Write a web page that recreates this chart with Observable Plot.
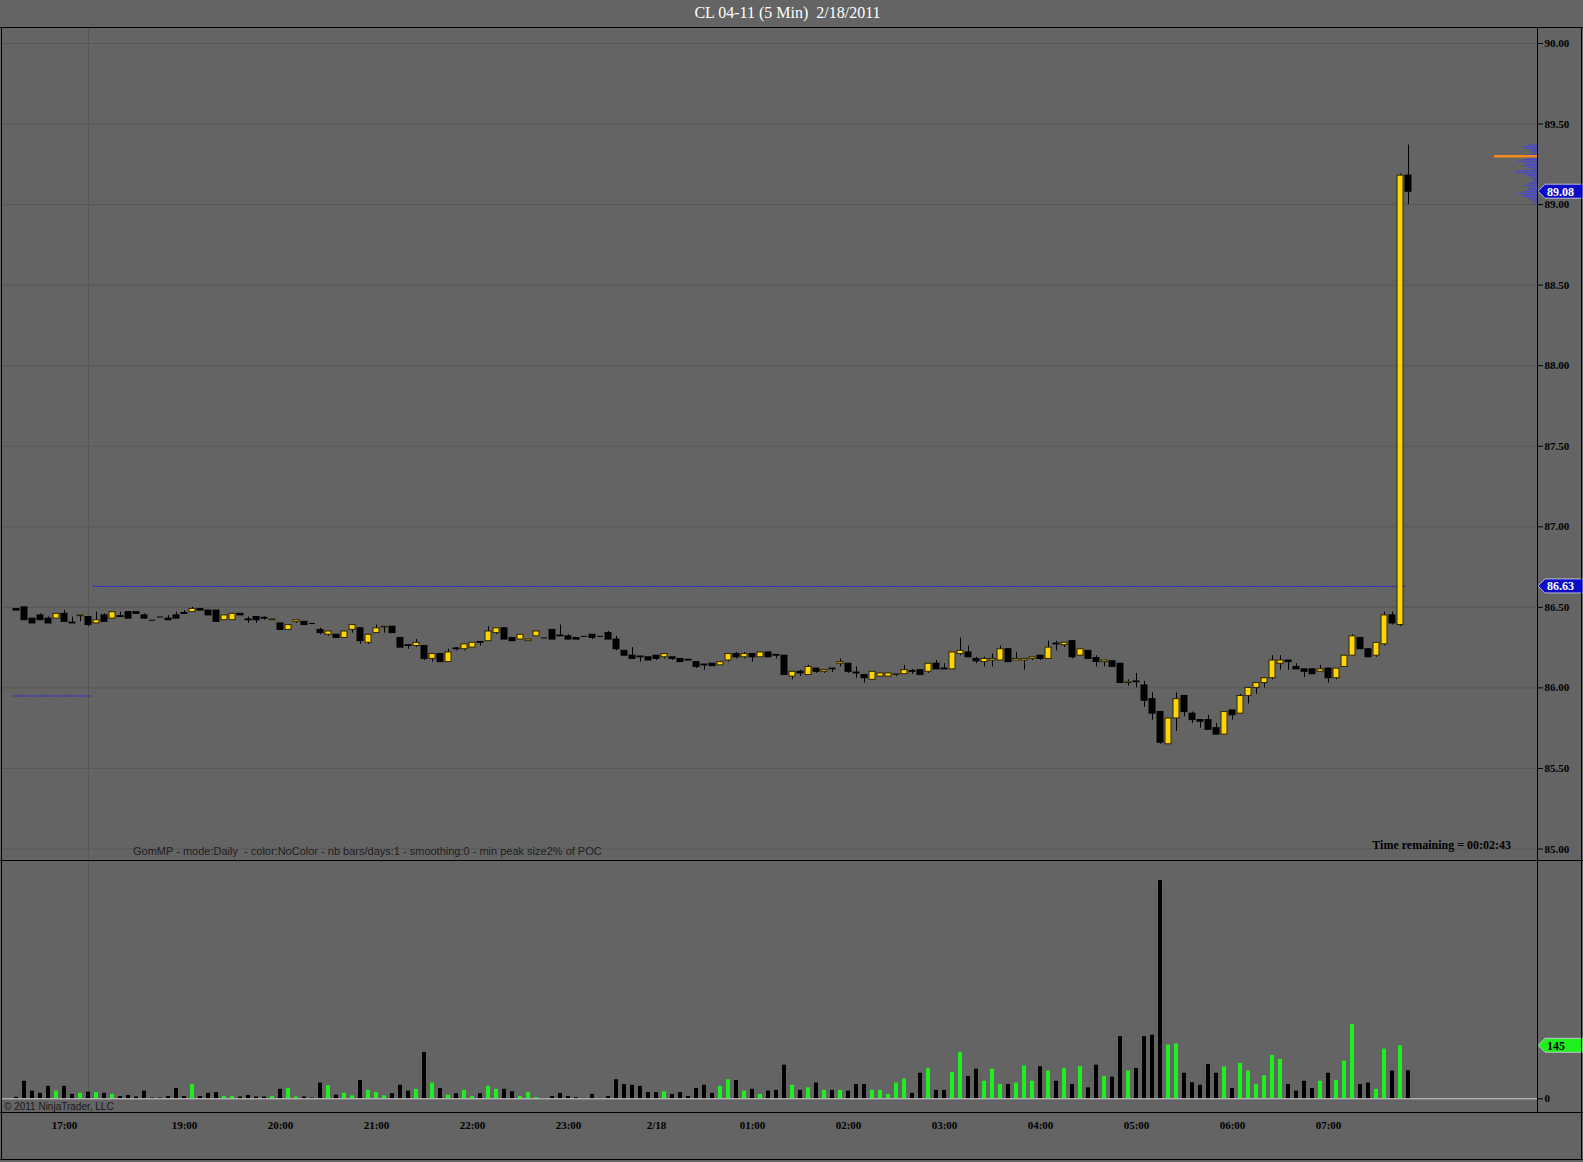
<!DOCTYPE html>
<html><head><meta charset="utf-8">
<script src="https://cdn.jsdelivr.net/npm/d3@7"></script>
<script src="https://cdn.jsdelivr.net/npm/@observablehq/plot@0.6"></script>
<style>
html,body{margin:0;padding:0;background:#646464;}
#root{position:relative;width:1583px;height:1162px;overflow:hidden;background:#646464;}
.abs{position:absolute;}
.hl{position:absolute;height:1px;background:#000;}
.vl{position:absolute;width:1px;background:#000;}
#title{left:0;width:1575px;top:4px;text-align:center;font:16px "Liberation Serif",serif;color:#fff;white-space:pre;}
#gom{left:133px;top:845px;font:11px "Liberation Sans",Arial,sans-serif;color:#1e1e1e;letter-spacing:0px;white-space:pre;}
#trem{left:1300px;width:211px;text-align:right;top:838px;font:bold 12px "Liberation Serif",serif;color:#000;white-space:pre;}
#copy{left:4px;top:1101px;font:10px "Liberation Sans",Arial,sans-serif;color:#1a1a1a;white-space:pre;}
</style></head>
<body><div id="root">
<div id="title" class="abs">CL 04-11 (5 Min)  2/18/2011</div>
</div>
<script>
// ---------- DATA ----------
const opens = [
86.49,86.50,86.43,86.45,86.43,86.43,86.46,86.405,86.445,86.44,
86.40,86.45,86.43,86.445,86.47,86.47,86.45,86.42,86.44,86.43,
86.45,86.465,86.47,86.49,86.48,86.48,86.42,86.42,86.46,86.425,
86.44,86.435,86.42,86.40,86.36,86.41,86.41,86.40,86.36,86.33,
86.33,86.31,86.36,86.37,86.28,86.34,86.375,86.38,86.31,86.265,
86.26,86.26,86.18,86.21,86.16,86.245,86.24,86.25,86.285,86.29,
86.34,86.37,86.31,86.30,86.29,86.32,86.31,86.36,86.325,86.32,
86.31,86.32,86.33,86.32,86.34,86.30,86.23,86.20,86.195,86.19,
86.20,86.19,86.19,86.18,86.175,86.16,86.145,86.15,86.14,86.17,
86.21,86.19,86.21,86.19,86.22,86.205,86.20,86.07,86.10,86.08,
86.12,86.10,86.12,86.15,86.15,86.095,86.08,86.05,86.07,86.07,
86.08,86.085,86.105,86.11,86.10,86.15,86.12,86.115,86.21,86.22,
86.18,86.16,86.17,86.17,86.24,86.17,86.17,86.18,86.20,86.18,
86.275,86.265,86.29,86.20,86.23,86.185,86.16,86.165,86.15,86.03,
86.04,86.015,85.93,85.85,85.65,85.81,85.95,85.84,85.80,85.80,
85.75,85.71,85.86,85.84,85.95,86.00,86.03,86.06,86.15,86.17,
86.13,86.115,86.115,86.10,86.12,86.06,86.13,86.20,86.31,86.24,
86.20,86.27,86.45,86.39,89.18];
const highs = [
86.49,86.50,86.43,86.46,86.44,86.46,86.48,86.44,86.45,86.44,
86.47,86.46,86.47,86.47,86.47,86.47,86.46,86.42,86.44,86.45,
86.47,86.48,86.50,86.49,86.48,86.48,86.45,86.46,86.46,86.44,
86.44,86.44,86.425,86.40,86.39,86.42,86.41,86.40,86.37,86.35,
86.33,86.35,86.39,86.37,86.33,86.39,86.38,86.38,86.31,86.265,
86.30,86.26,86.21,86.21,86.24,86.25,86.27,86.28,86.285,86.38,
86.37,86.37,86.31,86.33,86.30,86.35,86.31,86.36,86.39,86.33,
86.31,86.32,86.33,86.32,86.35,86.32,86.23,86.25,86.195,86.19,
86.20,86.21,86.19,86.18,86.175,86.16,86.145,86.15,86.16,86.21,
86.22,86.22,86.21,86.22,86.22,86.205,86.20,86.10,86.11,86.14,
86.12,86.11,86.12,86.18,86.15,86.13,86.08,86.10,86.09,86.09,
86.085,86.14,86.115,86.11,86.15,86.17,86.15,86.22,86.31,86.26,
86.19,86.19,86.21,86.26,86.24,86.22,86.18,86.19,86.20,86.29,
86.29,86.28,86.29,86.24,86.23,86.20,86.17,86.165,86.15,86.05,
86.09,86.04,85.97,85.85,85.81,85.97,85.95,85.85,85.80,85.83,
85.78,85.85,85.86,85.96,86.00,86.03,86.06,86.20,86.20,86.17,
86.15,86.115,86.12,86.14,86.12,86.12,86.20,86.33,86.31,86.24,
86.28,86.47,86.47,89.19,89.37];
const lows = [
86.48,86.42,86.40,86.42,86.40,86.43,86.41,86.40,86.41,86.38,
86.40,86.41,86.43,86.44,86.43,86.46,86.43,86.42,86.44,86.42,
86.43,86.46,86.47,86.48,86.45,86.41,86.42,86.42,86.45,86.40,
86.40,86.42,86.42,86.36,86.36,86.40,86.39,86.40,86.33,86.32,
86.31,86.31,86.34,86.27,86.27,86.34,86.34,86.34,86.25,86.24,
86.25,86.17,86.16,86.16,86.16,86.23,86.23,86.25,86.26,86.29,
86.33,86.30,86.29,86.30,86.29,86.32,86.31,86.30,86.32,86.30,
86.30,86.32,86.30,86.32,86.30,86.23,86.20,86.18,86.16,86.17,
86.17,86.18,86.17,86.16,86.17,86.12,86.11,86.135,86.14,86.16,
86.18,86.18,86.16,86.19,86.19,86.18,86.08,86.05,86.07,86.08,
86.09,86.09,86.095,86.13,86.09,86.06,86.03,86.05,86.07,86.07,
86.07,86.085,86.085,86.08,86.09,86.115,86.115,86.115,86.20,86.19,
86.15,86.13,86.13,86.17,86.16,86.17,86.11,86.17,86.17,86.18,
86.23,86.25,86.18,86.20,86.18,86.13,86.13,86.13,86.03,86.01,
86.00,85.88,85.80,85.65,85.65,85.73,85.82,85.78,85.75,85.74,
85.71,85.71,85.80,85.84,85.90,85.96,86.00,86.05,86.11,86.11,
86.115,86.065,86.085,86.10,86.03,86.05,86.13,86.20,86.24,86.19,
86.19,86.26,86.39,86.38,89.00];
const closes = [
86.48,86.42,86.40,86.42,86.40,86.46,86.41,86.40,86.45,86.39,
86.42,86.41,86.47,86.44,86.43,86.46,86.43,86.42,86.44,86.42,
86.43,86.46,86.49,86.48,86.45,86.41,86.45,86.46,86.45,86.42,
86.42,86.43,86.425,86.36,86.39,86.42,86.39,86.40,86.34,86.35,
86.31,86.35,86.39,86.29,86.33,86.37,86.38,86.34,86.25,86.26,
86.28,86.18,86.21,86.16,86.22,86.24,86.27,86.28,86.28,86.35,
86.37,86.30,86.29,86.33,86.30,86.35,86.31,86.30,86.32,86.30,
86.30,86.32,86.31,86.32,86.30,86.24,86.20,86.18,86.19,86.17,
86.18,86.21,86.18,86.16,86.17,86.13,86.14,86.135,86.16,86.21,
86.19,86.21,86.19,86.22,86.19,86.20,86.08,86.10,86.09,86.13,
86.10,86.11,86.115,86.16,86.10,86.09,86.06,86.10,86.09,86.09,
86.085,86.11,86.10,86.08,86.15,86.115,86.115,86.22,86.23,86.19,
86.165,86.18,86.18,86.24,86.16,86.18,86.18,86.19,86.18,86.25,
86.27,86.28,86.19,86.24,86.18,86.16,86.17,86.13,86.03,86.035,
86.035,85.92,85.84,85.66,85.81,85.93,85.85,85.80,85.79,85.74,
85.71,85.85,85.83,85.95,86.00,86.03,86.06,86.17,86.17,86.16,
86.115,86.10,86.085,86.115,86.06,86.12,86.20,86.32,86.24,86.19,
86.28,86.45,86.40,89.18,89.08];
const volumes = [
4,48,21,15,34,21,34,12,15,18,
17,15,12,6,9,5,21,2,2,6,
28,6,39,6,15,17,6,6,5,9,
5,5,6,26,28,5,5,2,43,36,
10,15,8,50,23,17,8,14,37,21,
26,127,43,28,10,14,23,6,14,34,
26,26,19,6,17,3,1,6,15,6,
3,1,12,1,6,52,39,37,34,17,
17,19,12,17,6,28,37,15,34,52,
50,21,26,12,21,23,92,37,23,30,
43,23,23,23,21,39,39,23,23,12,
43,54,15,70,83,23,23,72,127,61,
81,48,81,39,39,43,90,48,88,76,
48,83,39,88,30,92,61,59,170,76,
83,170,174,597,147,150,70,44,37,94,
70,87,28,97,76,39,63,119,108,39,
21,48,28,48,70,50,103,203,39,43,
26,136,76,145,77];
const timeTickBars = [6,21,33,45,57,69,80,92,104,116,128,140,152,164];
const timeTickLabels = ["17:00","19:00","20:00","21:00","22:00","23:00","2/18","01:00","02:00","03:00","04:00","05:00","06:00","07:00"];
const priceTicks = [85.00,85.50,86.00,86.50,87.00,87.50,88.00,88.50,89.00,89.50,90.00];
const sessionBreakBar = 9;
const levelPrices = [86.63, 85.95];
const levelFrom = [9.6, -0.4];
const levelTo = [173.7, 9.5];
const profilePrices = [89.37,89.36,89.35,89.34,89.33,89.32,89.31,89.30,89.29,89.28,89.27,89.26,89.25,89.24,89.23,89.22,89.21,89.20,89.19,89.18,89.17,89.16,89.15,89.14,89.13,89.12,89.11,89.10,89.09,89.08,89.07,89.06,89.05,89.04,89.03,89.02,89.01];
const profileVols = [9,14,13,8,6,4,10,43,9,14,19,13,11,14,9,6,19,23,14,9,7,4,3,6,9,13,10,8,9,14,19,16,13,9,6,4,3];
const pocPrice = 89.30;
const lastPrice = 89.08;
const volumeMarker = 145;

// ---------- BUILD ----------
const bars = opens.map((o, i) => ({i, open: o, high: highs[i], low: lows[i], close: closes[i], vol: volumes[i], up: closes[i] > o}));
const levels = levelPrices.map((p, k) => ({p, from: levelFrom[k], to: levelTo[k]}));
const profile = profilePrices.map((p, k) => ({p, v: profileVols[k]}));
const XD = [-1.75, 190.125]; // bar-index domain of the panel (bar i at 16 + 8i px)
const root = document.getElementById("root");
const font = {background: "transparent", fontFamily: "'Liberation Serif', serif", fontSize: "11px", fontWeight: "bold", color: "#000", overflow: "visible"};
const YEL = "#ffd500", GRN = "#1ef01e";

const price = Plot.plot({
  width: 1583, height: 832,
  marginLeft: 2, marginRight: 46, marginTop: 0, marginBottom: 0,
  style: font,
  x: {domain: XD, axis: null},
  y: {domain: [85, 90], range: [820.5, 15], axis: null},
  color: {type: "identity"},
  marks: [
    Plot.gridY(priceTicks, {stroke: "#585858", strokeOpacity: 1}),
    Plot.ruleX([sessionBreakBar], {stroke: "#575757"}),
    Plot.ruleY(levels, {y: "p", x1: "from", x2: "to", stroke: "#1c1ce0", strokeDasharray: "2,1"}),
    Plot.ruleY(profile.filter(d => d.p !== pocPrice), {y: "p", x1: d => XD[1] - d.v / 8, x2: XD[1], stroke: "#4646d8", strokeOpacity: 0.95, strokeWidth: 1}),
    Plot.ruleY(profile.filter(d => d.p === pocPrice), {y: "p", x1: d => XD[1] - d.v / 8, x2: XD[1], stroke: "#f08a1c", strokeWidth: 2.5}),
    Plot.ruleX(bars, {x: "i", y1: "low", y2: "high", stroke: "#000"}),
    Plot.rect(bars.filter(d => d.close !== d.open), {x1: d => d.i - 0.375, x2: d => d.i + 0.375, y1: "open", y2: "close",
      fill: d => d.up ? YEL : "#000", stroke: d => d.up ? "#2e2400" : "#000", strokeWidth: 1}),
    Plot.ruleY(bars.filter(d => d.close === d.open), {y: "close", x1: d => d.i - 0.375, x2: d => d.i + 0.375, stroke: "#000"}),
    Plot.axisY(priceTicks, {anchor: "right", label: null, tickFormat: d => d.toFixed(2), tickSize: 5, tickPadding: 2, stroke: "#000"})
  ]
});
price.style.position = "absolute"; price.style.left = "0px"; price.style.top = "28px";
root.appendChild(price);

function marker(svg, y, text, fill, textColor) {
  const g = d3.select(svg).append("g");
  g.append("path").attr("d", `M1538,${y} L1545,${y - 7} L1583,${y - 7} L1583,${y + 7} L1545,${y + 7} Z`)
    .attr("fill", fill).attr("stroke", "#d8d8e8").attr("stroke-width", 0.8);
  g.append("text").attr("x", 1547).attr("y", y).attr("dy", "0.36em").attr("fill", textColor)
    .attr("text-anchor", "start")
    .attr("font-family", "'Liberation Serif', serif").attr("font-size", 12).attr("font-weight", "bold").text(text);
}
const py = price.scale("y");
marker(price, py.apply(lastPrice), lastPrice.toFixed(2), "#0c0cc8", "#fff");
marker(price, py.apply(levelPrices[0]), levelPrices[0].toFixed(2), "#0c0cc8", "#fff");

const VOL_BASE = 238.3;
const volTop = volumeMarker * VOL_BASE / 53;
const vol = Plot.plot({
  width: 1583, height: 300,
  marginLeft: 2, marginRight: 46, marginTop: 0, marginBottom: 300 - VOL_BASE,
  style: font,
  x: {domain: XD, axis: null},
  y: {domain: [0, volTop], axis: null},
  color: {type: "identity"},
  marks: [
    Plot.ruleX([sessionBreakBar], {stroke: "#575757"}),
    Plot.rect(bars, {x1: d => d.i - 0.25, x2: d => d.i + 0.25, y1: 0, y2: "vol", fill: d => d.up ? GRN : "#000"}),
    Plot.ruleY([0], {stroke: "#cfcfcf"}),
    Plot.axisY([0], {anchor: "right", label: null, tickSize: 5, tickPadding: 2, stroke: "#000"}),
    Plot.axisX(timeTickBars, {anchor: "bottom", label: null, tickSize: 0, tickPadding: 22, tickFormat: (d) => timeTickLabels[timeTickBars.indexOf(d)]})
  ]
});
vol.style.position = "absolute"; vol.style.left = "0px"; vol.style.top = "860px";
root.appendChild(vol);
const vy = vol.scale("y");
marker(vol, vy.apply(volumeMarker), String(volumeMarker), GRN, "#000");

// frame lines
const lines = [
  ["hl", 0, 27, 1583, 1], ["hl", 0, 860, 1583, 1], ["hl", 0, 1112, 1583, 1], ["hl", 0, 1159, 1583, 1],
  ["vl", 1, 27, 1, 1133], ["vl", 1581, 27, 1, 1133], ["vl", 1537, 27, 1, 1085]
];
for (const [c, l, t, w, h] of lines) {
  const d = document.createElement("div"); d.className = c;
  d.style.left = l + "px"; d.style.top = t + "px"; d.style.width = w + "px"; d.style.height = h + "px";
  root.appendChild(d);
}
function txt(id, s) { const d = document.createElement("div"); d.id = id; d.className = "abs"; d.textContent = s; root.appendChild(d); }
txt("gom", "GomMP - mode:Daily  - color:NoColor - nb bars/days:1 - smoothing:0 - min peak size2% of POC");
txt("trem", "Time remaining = 00:02:43");
txt("copy", "© 2011 NinjaTrader, LLC");
</script>
</body></html>
